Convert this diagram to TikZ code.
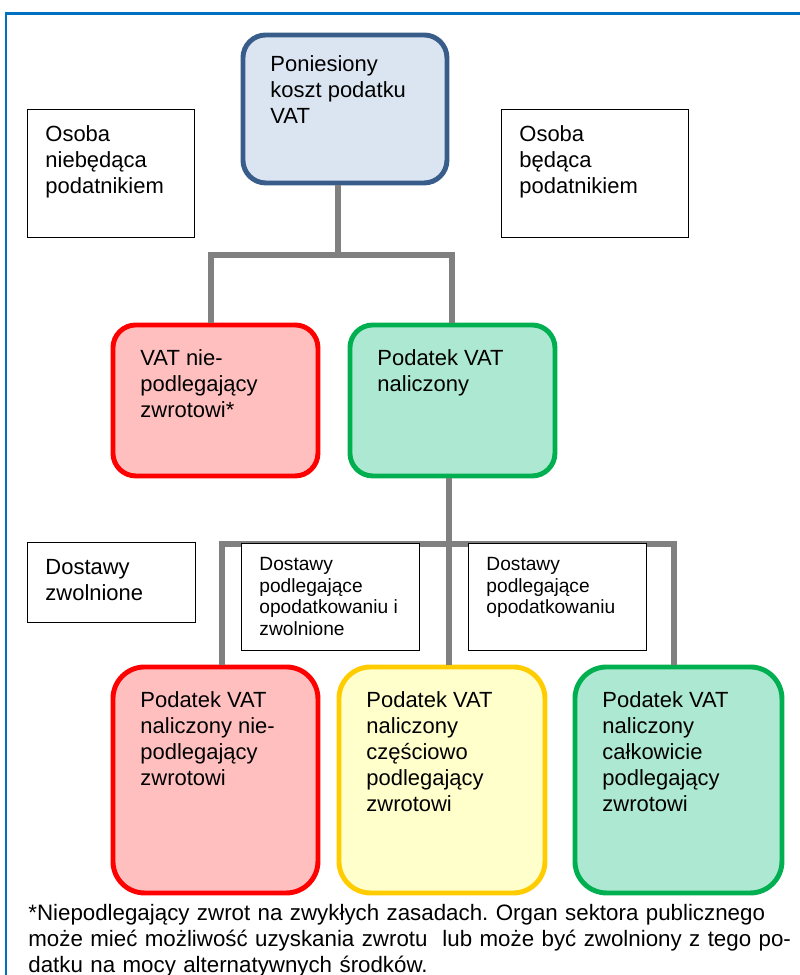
\documentclass[tikz,border=0pt]{standalone}
\usepackage{fontspec}
\setmainfont{Liberation Sans}
\frenchspacing

\definecolor{framebl}{HTML}{0070C0}
\definecolor{costline}{HTML}{385D8A}
\definecolor{costfill}{HTML}{DBE5F1}
\definecolor{alarm}{HTML}{FF0000}
\definecolor{alarmfill}{HTML}{FFBFBF}
\definecolor{okline}{HTML}{00B050}
\definecolor{okfill}{HTML}{ADE8D3}
\definecolor{partline}{HTML}{FFCC00}
\definecolor{partfill}{HTML}{FFFFCC}
\definecolor{linkgray}{HTML}{808080}

% one pixel of the page
\newdimen\px \px=0.02cm
% top-aligned text block: width, height (in px), lines
\newcommand{\boxtext}[3]{\parbox[t][#2\px][t]{#1\px}{\strut #3}}

\begin{document}
\begin{tikzpicture}[x=0.02cm, y=-0.02cm,
  stage/.style={draw, rounded corners=13pt, line width=2.8pt, anchor=north west,
    inner xsep=27.5\px, inner ysep=22.5\px, font=\fontsize{12.5}{14.8}\selectfont},
  tall/.style={rounded corners=18pt},
  party/.style={draw, line width=0.8pt, fill=white, anchor=north west,
    inner xsep=18\px, inner ysep=14\px, font=\fontsize{12.5}{14.8}\selectfont},
  supply/.style={party, inner ysep=12\px, font=\fontsize{10.9}{12.3}\selectfont},
  link/.style={draw=linkgray, line width=3.4pt},
  frame/.style={draw=framebl, line width=1.7pt},
  note/.style={anchor=base west, inner sep=0pt, text width=770\px, align=left,
    font=\fontsize{12.7}{14.8}\selectfont}]
  \useasboundingbox (0,0) rectangle (800,975);

  % Page frame
  \draw[frame] (800,13) -- (6,13) -- (6,975);

  % Cost of VAT (top)
  \node[stage, draw=costline, fill=costfill, inner ysep=18.5\px] (cost) at (240.5,32.5)
    {\boxtext{149}{111}{Poniesiony\\koszt podatku\\VAT}};

  % Who bears it
  \node[party] (nonpayer) at (26.75,108.75) {\boxtext{131}{100}{Osoba\\niebędąca\\podatnikiem}};
  \node[party] (payer) at (500.75,108.75) {\boxtext{151}{100}{Osoba\\będąca\\podatnikiem}};

  % Second level
  \node[stage, draw=alarm, fill=alarmfill] (noref) at (110.5,322.5)
    {\boxtext{150}{106}{VAT nie-\\podlegający\\zwrotowi*}};
  \node[stage, draw=okline, fill=okfill] (input) at (347.5,322.5)
    {\boxtext{150}{106}{Podatek VAT\\naliczony}};

  % Third level
  \node[stage, tall, draw=alarm, fill=alarmfill] (nonrec) at (110.5,664.5)
    {\boxtext{150}{181}{Podatek VAT\\naliczony nie-\\podlegający\\zwrotowi}};
  \node[stage, tall, draw=partline, fill=partfill] (partrec) at (336.5,664.5)
    {\boxtext{151}{181}{Podatek VAT\\naliczony\\częściowo\\podlegający\\zwrotowi}};
  \node[stage, tall, draw=okline, fill=okfill] (fullrec) at (572.5,664.5)
    {\boxtext{152}{181}{Podatek VAT\\naliczony\\całkowicie\\podlegający\\zwrotowi}};

  % Connecting lines
  \draw[link] ([xshift=-7\px]cost.south) -- ++(0,70) coordinate (fork1)
    -| ([xshift=-4\px]noref.north);
  \draw[link] (fork1) -| (input.north);
  \draw[link] ([xshift=-3\px]input.south) -- ++(0,65.5) coordinate (fork2)
    -| ([xshift=7\px]nonrec.north);
  \draw[link] (fork2) -| ([xshift=-4\px]fullrec.north);
  \draw[link] (fork2) -- (fork2 |- partrec.north);

  % Kinds of supplies
  \node[party] (exempt) at (26.75,541.75) {\boxtext{132}{52}{Dostawy\\zwolnione}};
  \node[supply] (mixed) at (240.75,542.75)
    {\boxtext{142}{83}{Dostawy\\podlegające\\opodatkowaniu i\\zwolnione}};
  \node[supply] (taxed) at (467.75,542.75)
    {\boxtext{142}{83}{Dostawy\\podlegające\\opodatkowaniu}};

  % Footnote
  \node[note] (footnote) at (28,920)
    {*Niepodlegający zwrot na zwykłych zasadach. Organ sektora publicznego\\
     może mieć możliwość uzyskania zwrotu~ lub może być zwolniony z tego po-\\
     datku na mocy alternatywnych środków.};
\end{tikzpicture}
\end{document}
